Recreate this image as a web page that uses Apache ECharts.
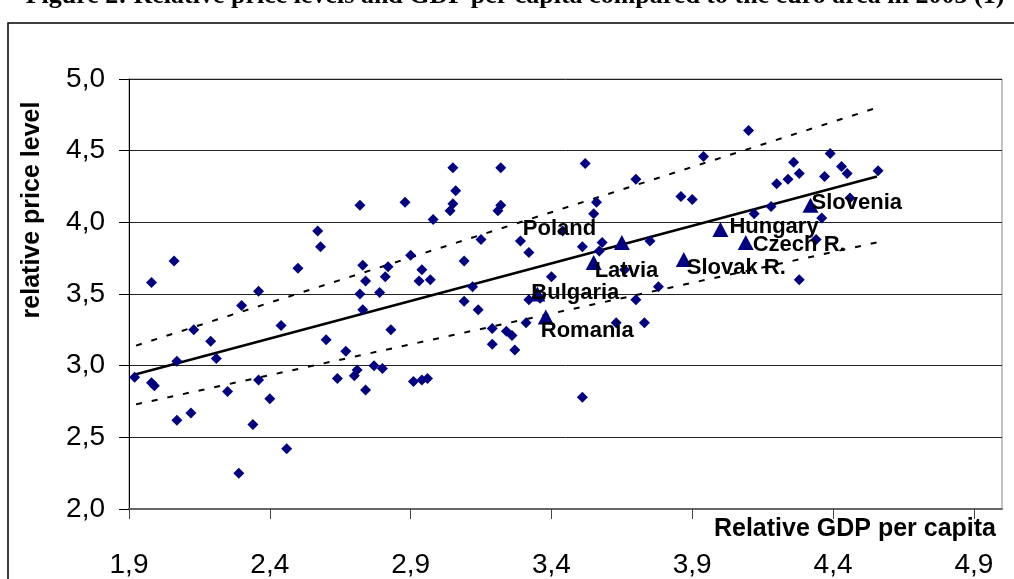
<!DOCTYPE html>
<html>
<head>
<meta charset="utf-8">
<script src="https://cdn.jsdelivr.net/npm/echarts@6.0.0/dist/echarts.min.js"></script>
<style>
  html, body { margin: 0; padding: 0; background: #fff; }
  #chart { width: 1014px; height: 579px; }
</style>
</head>
<body>
<div id="chart"></div>
<script>
// countries with a label (triangles)
var countryNames = ['Poland', 'Latvia', 'Bulgaria', 'Romania', 'Slovak R.', 'Hungary', 'Czech R.', 'Slovenia'];
var countryGdp   = [3.65, 3.55, 3.35, 3.38, 3.87, 4.00, 4.09, 4.32];
var countryPrice = [3.86, 3.72, 3.50, 3.34, 3.74, 3.95, 3.86, 4.12];

// the other countries (diamonds)
var otherGdp = [1.92, 1.98, 1.98, 1.99, 2.06, 2.07, 2.07, 2.12, 2.13, 2.19, 2.21, 2.25, 2.29, 2.30, 2.34,
  2.36, 2.36, 2.40, 2.44, 2.46, 2.50, 2.57, 2.58, 2.60, 2.64, 2.67, 2.70, 2.71, 2.72, 2.72,
  2.73, 2.73, 2.74, 2.74, 2.77, 2.79, 2.80, 2.81, 2.82, 2.83, 2.88, 2.90, 2.91, 2.94, 2.96,
  2.93, 2.94, 2.97, 2.98, 3.04, 3.05, 3.05, 3.06, 3.09, 3.09, 3.12, 3.14, 3.15, 3.19, 3.19,
  3.21, 3.22, 3.22, 3.24, 3.26, 3.27, 3.29, 3.31, 3.32, 3.32, 3.36, 3.40, 3.44, 3.51, 3.51,
  3.52, 3.55, 3.56, 3.57, 3.58, 3.63, 3.66, 3.70, 3.70, 3.73, 3.75, 3.78, 3.86, 3.90, 3.94,
  4.10, 4.12, 4.18, 4.20, 4.24, 4.26, 4.28, 4.28, 4.34, 4.36, 4.37, 4.39, 4.43, 4.45, 4.46, 4.56];
var otherPrice = [2.92, 3.58, 2.88, 2.86, 3.73, 3.03, 2.62, 2.67, 3.25, 3.17, 3.05, 2.82, 2.25, 3.42, 2.59,
  3.52, 2.90, 2.77, 3.28, 2.42, 3.68, 3.94, 3.83, 3.18, 2.91, 3.10, 2.93, 2.97, 3.50, 4.12,
  3.70, 3.39, 2.83, 3.59, 3.00, 3.51, 2.98, 3.62, 3.69, 3.25, 4.14, 3.77, 2.89, 2.90, 2.91,
  3.59, 3.67, 3.60, 4.02, 4.08, 4.13, 4.38, 4.22, 3.73, 3.45, 3.55, 3.39, 3.88, 3.26, 3.15,
  4.08, 4.12, 4.38, 3.24, 3.21, 3.11, 3.87, 3.30, 3.46, 3.79, 3.47, 3.62, 3.94, 3.83, 2.78,
  4.41, 4.06, 4.14, 3.80, 3.86, 3.30, 3.67, 4.30, 3.46, 3.30, 3.87, 3.55, 4.18, 4.16, 4.46,
  4.64, 4.06, 4.11, 4.27, 4.30, 4.42, 3.60, 4.34, 3.88, 4.03, 4.32, 4.48, 4.39, 4.34, 4.17, 4.36];

// regression line and its band (end points)
var lineGdp   = [1.925, 4.556];
var fitPrice  = [2.94, 4.32];
var upperBand = [3.14, 4.80];
var lowerBand = [2.73, 3.86];

// x tick labels
var xTicks = [1.9, 2.4, 2.9, 3.4, 3.9, 4.4, 4.9];

// where each country label sits relative to its marker
var labelOffset = {
  'Poland':    [-99, -13],
  'Latvia':    [1, 8],
  'Bulgaria':  [-6, -1],
  'Romania':   [-5, 14],
  'Slovak R.': [3, 8],
  'Hungary':   [9, -3],
  'Czech R.':  [7, 3],
  'Slovenia':  [1, -2]
};

function pairs(xs, ys) {
  var out = [];
  for (var i = 0; i < xs.length; i++) out.push([xs[i], ys[i]]);
  return out;
}
function comma(v) { return v.toFixed(1).replace('.', ','); }

var countryData = [];
for (var i = 0; i < countryNames.length; i++) {
  countryData.push({
    name: countryNames[i],
    value: [countryGdp[i], countryPrice[i]],
    label: { offset: labelOffset[countryNames[i]] }
  });
}

var navy = '#000080';
var chart = echarts.init(document.getElementById('chart'), null, { renderer: 'canvas' });

var option = {
  animation: false,
  backgroundColor: '#fff',
  grid: {
    left: 129, top: 79, right: 12, bottom: 70,
    show: true, borderColor: '#888', borderWidth: 1,
    outerBoundsMode: 'none'
  },
  xAxis: {
    type: 'value', min: 1.9, max: 5.0,
    axisLine: { show: true, lineStyle: { color: '#666', width: 2 } },
    axisTick: { show: true, customValues: xTicks, length: 10, lineStyle: { color: '#444' } },
    axisLabel: {
      customValues: xTicks, margin: 42, formatter: comma,
      color: '#000', fontFamily: 'Liberation Sans, Arial', fontSize: 28
    },
    splitLine: { show: false }
  },
  yAxis: {
    type: 'value', min: 2, max: 5, interval: 0.5,
    axisLine: { show: true, lineStyle: { color: '#000', width: 1 } },
    axisTick: { show: true, length: 10, lineStyle: { color: '#000' } },
    axisLabel: {
      margin: 24, formatter: comma,
      color: '#000', fontFamily: 'Liberation Sans, Arial', fontSize: 28
    },
    splitLine: { show: true, lineStyle: { color: '#222', width: 1 } }
  },
  graphic: [
    {
      type: 'rect', silent: true, z: -1,
      shape: { x: 8, y: 23, width: 1030, height: 600 },
      style: { fill: 'none', stroke: '#000', lineWidth: 1.5 }
    },
    {
      type: 'text', x: 515, y: 9,
      style: {
        text: 'Figure 2: Relative price levels and GDP per capita compared to the euro area in 2003 (1)',
        font: 'bold 26px "Liberation Serif", "Times New Roman", serif',
        fill: '#000', textAlign: 'center', textVerticalAlign: 'bottom'
      }
    },
    {
      type: 'text', x: 32, y: 210, rotation: Math.PI / 2,
      style: {
        text: 'relative price level',
        font: 'bold 25px "Liberation Sans", Arial, sans-serif',
        fill: '#000', textAlign: 'center', textVerticalAlign: 'middle'
      }
    },
    {
      type: 'text', x: 996, y: 529,
      style: {
        text: 'Relative GDP per capita',
        font: 'bold 25px "Liberation Sans", Arial, sans-serif',
        fill: '#000', textAlign: 'right', textVerticalAlign: 'middle'
      }
    }
  ],
  series: [
    {
      type: 'line', data: pairs(lineGdp, upperBand), symbol: 'none', z: 3,
      lineStyle: { color: '#000', width: 2, type: [6, 10] }
    },
    {
      type: 'line', data: pairs(lineGdp, lowerBand), symbol: 'none', z: 3,
      lineStyle: { color: '#000', width: 2, type: [6, 10] }
    },
    {
      type: 'line', data: pairs(lineGdp, fitPrice), symbol: 'none', z: 3,
      lineStyle: { color: '#000', width: 2.5 }
    },
    {
      type: 'scatter', data: pairs(otherGdp, otherPrice), z: 4,
      symbol: 'diamond', symbolSize: 11,
      itemStyle: { color: navy, opacity: 1 }
    },
    {
      type: 'scatter', data: countryData, z: 5,
      symbol: 'triangle', symbolSize: [16, 15],
      itemStyle: { color: navy, opacity: 1 },
      label: {
        show: true, position: 'inside', align: 'left', verticalAlign: 'middle',
        formatter: '{b}', color: '#000', textBorderWidth: 0,
        fontFamily: 'Liberation Sans, Arial', fontWeight: 'bold', fontSize: 22
      }
    }
  ]
};
chart.setOption(option);
</script>
</body>
</html>
